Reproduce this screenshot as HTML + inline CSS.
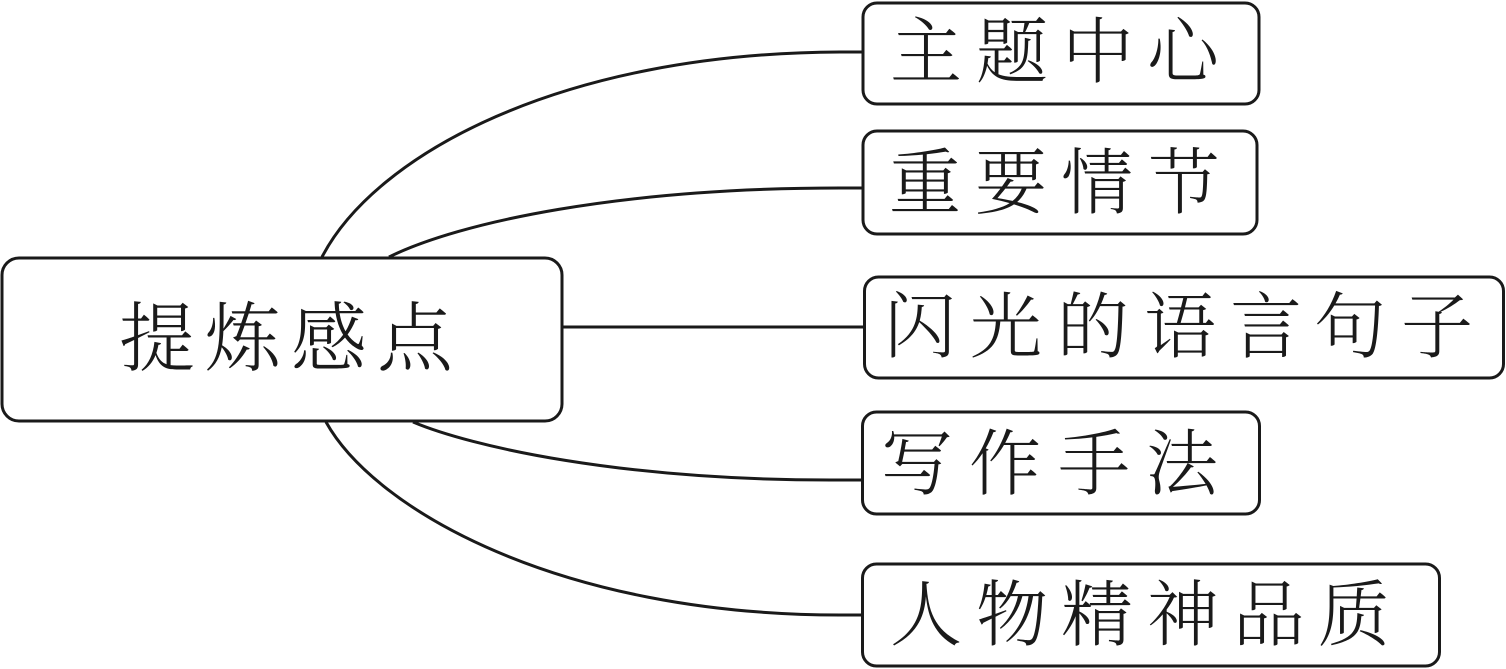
<!DOCTYPE html>
<html>
<head>
<meta charset="utf-8">
<style>
  html, body { margin:0; padding:0; background:#fff; }
  body { width:1506px; height:669px; overflow:hidden; }
  svg { display:block; }
  text { font-family: "Liberation Serif", "Noto Serif CJK SC", serif; fill:#1a1a1a; font-weight:300; }
</style>
</head>
<body>
<svg width="1506" height="669" viewBox="0 0 1506 669" xmlns="http://www.w3.org/2000/svg">
  <g fill="none" stroke="#1a1a1a" stroke-width="3">
    <!-- connectors -->
    <path d="M322,257 C375,155 560,53 840,52 L863,52"/>
    <path d="M389,257 C460,222 620,188 840,188 L863,188"/>
    <path d="M563,327 L865,327"/>
    <path d="M413,422 C470,446 620,481 840,480 L863,480"/>
    <path d="M326,422 C375,510 560,615 840,615 L863,615"/>
    <!-- boxes -->
    <rect x="2" y="258" width="560" height="163" rx="17" ry="17"/>
    <rect x="863" y="3" width="396" height="101" rx="14" ry="14"/>
    <rect x="863" y="131" width="394" height="103" rx="14" ry="14"/>
    <rect x="864.5" y="277" width="639" height="101" rx="14" ry="14"/>
    <rect x="862.5" y="412" width="397" height="102" rx="14" ry="14"/>
    <rect x="862.5" y="564" width="577" height="102" rx="14" ry="14"/>
  </g>
  <g text-anchor="middle" dominant-baseline="central">
    <text x="157 243 329 415" y="340" font-size="76">提炼感点</text>
    <text x="926 1012 1098 1183" y="53" font-size="72">主题中心</text>
    <text x="925 1011 1097 1184" y="184" font-size="72">重要情节</text>
    <text x="920 1006 1093 1180 1266 1350 1437" y="328" font-size="72">闪光的语言句子</text>
    <text x="917 1005 1094 1182" y="465" font-size="72">写作手法</text>
    <text x="926 1012 1097 1183 1269 1354" y="616" font-size="72">人物精神品质</text>
  </g>
</svg>
</body>
</html>
